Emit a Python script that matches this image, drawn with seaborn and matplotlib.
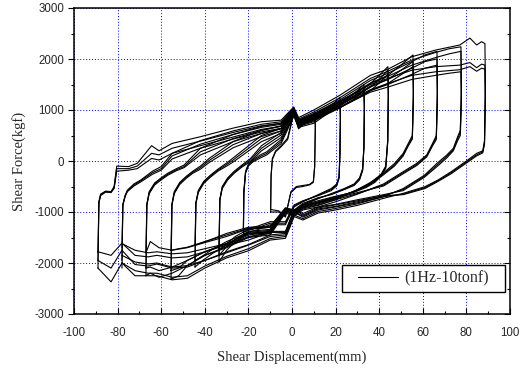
import matplotlib
matplotlib.use("Agg")
import matplotlib.pyplot as plt
from matplotlib.ticker import MultipleLocator, NullFormatter
from matplotlib.patches import Rectangle
import seaborn as sns
import pandas as pd

# ---------------- data ----------------
# amplitude 89 mm loops
x89 = [-89, -88.6, -87.8, -85.5, -83, -81.6, -80.4, -75, -71, -64.4, -61, -55, -42, -27, -14, -5, 0.8, 3, 10, 22, 36, 44, 55, 66, 77, 81.6, 84.7, 87, 88.5,
       88.7, 88.3, 87.5, 84.7, 80, 73, 67, 61, 51, 42, 30, 20, 12, 5, 1, -3, -10, -20, -30, -40, -48, -55, -62, -66, -72, -78, -83, -89]
f89_1 = [-2100, -800, -650, -590, -600, -500, -100, -110, -46, 300, 200, 345, 476, 645, 770, 800, 1060, 850, 1000, 1290, 1680, 1800, 2045, 2176, 2275, 2410, 2275, 2340, 2300,
         1500, 400, 200, 150, 0, -210, -372, -503, -634, -732, -870, -960, -1020, -1157, -1090, -1516, -1550, -1760, -1900, -2100, -2300, -2330, -2250, -2250, -2250, -2000, -2370, -2100]
f89_2 = [-1950, -820, -660, -600, -610, -520, -150, -150, -100, 150, 120, 250, 390, 560, 690, 740, 1020, 800, 920, 1180, 1500, 1620, 1780, 1850, 1880, 1930, 1830, 1900, 1880,
         1300, 350, 180, 120, -20, -230, -390, -520, -650, -700, -820, -900, -960, -1100, -1000, -1450, -1480, -1650, -1800, -1950, -2080, -2100, -2020, -2060, -2030, -1750, -2100, -1950]
f89_3 = [-1800, -830, -680, -610, -620, -540, -200, -180, -150, 50, 20, 150, 300, 470, 620, 680, 990, 760, 860, 1100, 1400, 1520, 1680, 1750, 1790, 1850, 1760, 1820, 1800,
         1200, 330, 160, 100, -40, -250, -400, -540, -660, -680, -780, -860, -920, -1060, -950, -1400, -1400, -1550, -1650, -1780, -1880, -1900, -1850, -1880, -1850, -1610, -1850, -1780]

# amplitude 78 mm loops
x78 = [-78, -77.6, -76.5, -75.5, -72.5, -69.4, -64, -60, -55, -42, -27, -14, -5, 0.8, 3, 10, 22, 36, 44, 55, 66, 72, 77.5,
       77.7, 77.2, 76, 74, 71, 66.5, 60.7, 51, 42, 30, 20, 12, 5, 1, -3, -10, -20, -30, -40, -48, -55, -62, -66, -72, -78]
f78_1 = [-2100, -850, -670, -570, -450, -373, -200, -110, 150, 400, 590, 720, 770, 1040, 820, 960, 1240, 1620, 1760, 1980, 2130, 2200, 2240,
         1400, 600, 477, 250, 118, -46, -280, -540, -700, -840, -930, -990, -1130, -1060, -1480, -1520, -1720, -1870, -2060, -2250, -2280, -2200, -2200, -2150, -2000]
f78_2 = [-1950, -860, -680, -590, -470, -390, -230, -150, 100, 330, 520, 660, 720, 1010, 790, 900, 1160, 1520, 1660, 1880, 2030, 2100, 2150,
         1300, 560, 440, 220, 90, -80, -300, -560, -680, -800, -890, -940, -1080, -1000, -1420, -1450, -1640, -1780, -1950, -2050, -2080, -2000, -2020, -1980, -1850]
f78_3 = [-1700, -870, -690, -600, -490, -410, -260, -180, 40, 250, 430, 570, 640, 970, 740, 820, 1050, 1350, 1450, 1600, 1680, 1720, 1750,
         1100, 500, 400, 200, 60, -110, -320, -580, -660, -760, -850, -900, -1030, -950, -1380, -1380, -1500, -1620, -1720, -1800, -1820, -1780, -1800, -1750, -1620]

# amplitude 66 mm loops
x66 = [-67, -66.6, -65.5, -63, -60, -57, -53, -49.5, -42, -27, -14, -5, 0.8, 3, 10, 22, 36, 44, 55, 61, 66.5,
       66.7, 66.2, 64.5, 61.8, 57.2, 51, 42, 30, 20, 12, 5, 1, -3, -10, -20, -30, -40, -48, -55, -61, -65, -67]
f66_1 = [-2250, -850, -600, -430, -330, -240, -150, -80, 250, 520, 680, 740, 1020, 800, 930, 1200, 1580, 1720, 1950, 2080, 2150,
         1400, 500, 346, 118, -46, -209, -450, -650, -800, -900, -960, -1080, -1020, -1450, -1500, -1700, -1850, -2050, -2200, -2280, -2200, -2250]
f66_2 = [-2100, -860, -620, -450, -350, -260, -170, -110, 180, 440, 600, 680, 990, 770, 880, 1120, 1470, 1600, 1820, 1950, 2000,
         1300, 460, 320, 100, -70, -230, -470, -640, -760, -860, -920, -1040, -980, -1400, -1420, -1620, -1780, -1950, -2080, -2150, -2080, -2100]
f66_3 = [-1800, -870, -640, -470, -370, -280, -190, -130, 120, 380, 540, 630, 960, 740, 840, 1060, 1380, 1500, 1700, 1820, 1880,
         1200, 420, 300, 80, -90, -250, -490, -620, -730, -820, -880, -1000, -940, -1300, -1330, -1480, -1600, -1700, -1750, -1700, -1580, -1800]

# amplitude 55 mm loops
x55 = [-55.5, -55.1, -54, -51.5, -48.5, -45.5, -42, -38, -27, -14, -5, 0.8, 3, 10, 22, 36, 44, 50, 55.5,
       55.7, 55.2, 53.4, 51, 47, 42, 36, 30, 20, 12, 5, 1, -3, -10, -20, -30, -40, -48, -52, -55.5]
f55_1 = [-2320, -850, -600, -420, -300, -200, -100, 50, 380, 600, 690, 1000, 780, 900, 1160, 1530, 1680, 1880, 2080,
         1400, 500, 350, 150, -50, -230, -420, -560, -760, -870, -940, -1060, -1000, -1420, -1480, -1680, -1850, -2050, -2250, -2320]
f55_2 = [-2150, -860, -620, -440, -320, -220, -130, 10, 320, 540, 640, 980, 760, 870, 1110, 1450, 1600, 1780, 1950,
         1300, 460, 320, 120, -80, -250, -440, -570, -740, -840, -910, -1030, -970, -1380, -1430, -1620, -1780, -1950, -2100, -2150]
f55_3 = [-1750, -870, -640, -460, -340, -240, -160, -30, 260, 480, 590, 950, 730, 830, 1050, 1380, 1520, 1690, 1850,
         1200, 430, 300, 100, -100, -270, -450, -580, -720, -810, -880, -1000, -940, -1300, -1320, -1450, -1580, -1690, -1720, -1750]

# amplitude 44 mm loops
x44 = [-44.5, -44.1, -43, -40.5, -37.5, -34, -30, -27, -14, -5, 0.8, 3, 10, 22, 30, 36, 40, 44,
       44.2, 43.9, 43, 41, 38, 34, 28, 20, 12, 5, 1, -3, -10, -20, -30, -36, -41, -44.5]
f44_1 = [-2080, -820, -580, -400, -280, -160, -40, 60, 500, 640, 980, 760, 880, 1150, 1350, 1520, 1680, 1850,
         1400, 400, -100, -250, -380, -480, -600, -720, -820, -900, -1030, -980, -1400, -1450, -1650, -1800, -1950, -2080]
f44_2 = [-1950, -830, -600, -420, -300, -180, -70, 20, 440, 590, 960, 740, 850, 1100, 1290, 1450, 1600, 1780,
         1300, 380, -120, -270, -400, -500, -610, -700, -800, -880, -1000, -950, -1360, -1400, -1580, -1720, -1860, -1950]
f44_3 = [-1650, -840, -620, -440, -320, -200, -100, -20, 380, 540, 930, 710, 820, 1050, 1230, 1380, 1530, 1700,
         1200, 360, -140, -290, -420, -520, -620, -690, -780, -860, -970, -920, -1280, -1300, -1420, -1520, -1600, -1650]

# amplitude 33 mm loops
x33 = [-33.5, -33.1, -32, -29.5, -26.5, -23, -19, -14, -5, 0.8, 3, 10, 22, 28, 33,
       33.2, 33, 32.4, 31, 28.5, 24, 18, 12, 5, 1, -3, -10, -20, -26, -30, -33.5]
f33_1 = [-1980, -750, -500, -330, -200, -80, 50, 300, 560, 960, 740, 850, 1120, 1300, 1500,
         1100, 300, -150, -330, -450, -540, -640, -740, -870, -1000, -960, -1380, -1420, -1580, -1750, -1980]
f33_2 = [-1850, -760, -520, -350, -220, -100, 20, 250, 510, 940, 720, 820, 1080, 1250, 1450,
         1050, 280, -170, -350, -460, -550, -650, -730, -850, -980, -940, -1340, -1380, -1530, -1680, -1850]
f33_3 = [-1750, -770, -540, -370, -240, -120, -10, 200, 460, 920, 700, 790, 1040, 1200, 1380,
         1000, 260, -190, -370, -480, -560, -660, -720, -830, -960, -920, -1300, -1340, -1480, -1620, -1750]

# amplitude 22 mm loops
x22 = [-22.3, -22.1, -21.3, -20, -18, -14.5, -11.6, -5, 0.8, 3, 10, 16, 22,
       22.2, 22, 21.6, 20.5, 18, 12, 5, 1, -3, -10, -16, -20, -22.3]
f22_1 = [-1450, -600, -200, -60, 20, 120, 180, 420, 920, 700, 800, 1000, 1250,
         900, 200, -300, -450, -540, -660, -800, -900, -1250, -1250, -1350, -1400, -1450]
f22_2 = [-1400, -620, -220, -80, 0, 90, 150, 380, 900, 680, 770, 960, 1180,
         850, 180, -320, -470, -560, -670, -790, -880, -1220, -1220, -1310, -1360, -1400]
f22_3 = [-1350, -640, -240, -100, -20, 60, 120, 340, 880, 660, 740, 920, 1130,
         800, 160, -340, -490, -580, -680, -780, -860, -1190, -1190, -1280, -1320, -1350]

# amplitude 10 mm loops
x10 = [-9.8, -9.6, -9, -7.5, -5, -2, 0.8, 3, 6, 10.5,
       10.7, 10.4, 9.8, 8, 5, 2, -0.5, -3, -6, -9.8]
f10_1 = [-1000, -300, 50, 200, 300, 450, 950, 650, 780, 950,
         700, -100, -400, -460, -480, -500, -600, -1100, -1000, -1000]
f10_2 = [-950, -280, 30, 180, 280, 420, 930, 630, 750, 900,
         650, -120, -420, -470, -500, -520, -620, -1080, -980, -950]

legend_label = "(1Hz-10tonf)"
x_label = "Shear Displacement(mm)"
y_label = "Shear Force(kgf)"

# ---------------- plotting ----------------
sns.set_style("ticks")
plt.rcParams["font.family"] = ["Liberation Sans", "DejaVu Sans"]
plt.rcParams["axes.unicode_minus"] = False

fig = plt.figure(figsize=(5.25, 3.69), dpi=100)
ax = fig.add_axes([74 / 525, 55 / 369, 436 / 525, 306 / 369])

loops = [
    (x89, [f89_1, f89_2, f89_3]),
    (x78, [f78_1, f78_2, f78_3]),
    (x66, [f66_1, f66_2, f66_3]),
    (x55, [f55_1, f55_2, f55_3]),
    (x44, [f44_1, f44_2, f44_3]),
    (x33, [f33_1, f33_2, f33_3]),
    (x22, [f22_1, f22_2, f22_3]),
    (x10, [f10_1, f10_2]),
]

first = True
for xs, cycles in loops:
    for fs in cycles:
        df = pd.DataFrame({"disp": xs, "force": fs})
        sns.lineplot(data=df, x="disp", y="force", sort=False, estimator=None,
                     color="black", linewidth=0.8, ax=ax,
                     label=legend_label if first else None, legend=False, zorder=3)
        first = False

ax.set_xlim(-100, 100)
ax.set_ylim(-3000, 3000)
ax.xaxis.set_major_locator(MultipleLocator(20))
ax.xaxis.set_minor_locator(MultipleLocator(10))
ax.yaxis.set_major_locator(MultipleLocator(1000))
ax.yaxis.set_minor_locator(MultipleLocator(500))

ax.grid(True, which="major", color="#0000ff", linestyle=(0, (1, 2)), linewidth=0.7, zorder=1)

for s in ax.spines.values():
    s.set_linewidth(1.1)
    s.set_color("black")

ax.tick_params(axis="both", which="both", labelsize=8.3, color="black", width=0.8)
ax.tick_params(axis="y", which="major", direction="out", length=4, pad=3)
ax.tick_params(axis="y", which="minor", direction="out", length=2.5)
ax.tick_params(axis="x", which="major", direction="in", length=4, pad=9)
ax.tick_params(axis="x", which="minor", direction="in", length=2.5)

# right-hand ticks point inward
axr = ax.twinx()
axr.set_ylim(ax.get_ylim())
axr.yaxis.set_major_locator(MultipleLocator(1000))
axr.yaxis.set_minor_locator(MultipleLocator(500))
axr.yaxis.set_major_formatter(NullFormatter())
axr.tick_params(axis="y", which="major", direction="in", length=4, width=0.8, color="black")
axr.tick_params(axis="y", which="minor", direction="in", length=2.5, width=0.8, color="black")
axr.grid(False)
for s in axr.spines.values():
    s.set_visible(False)

ax.set_xlabel(x_label, family=["Liberation Serif"], fontsize=10.5, labelpad=9)
ax.set_ylabel(y_label, family=["Liberation Serif"], fontsize=10.5, labelpad=6)

# legend box (frame drawn as a rectangle to reproduce wide side padding)
frame = Rectangle((0.6147, 0.0719), 0.374, 0.0882, transform=ax.transAxes,
                  facecolor="white", edgecolor="black", linewidth=1.0, zorder=5)
ax.add_patch(frame)
handles, labels = ax.get_legend_handles_labels()
leg = ax.legend(handles[:1], [legend_label], loc="center",
                bbox_to_anchor=(0.8016, 0.116), frameon=False,
                prop={"family": "Liberation Serif", "size": 11.5},
                handlelength=2.5, handletextpad=0.35, borderpad=0.0, borderaxespad=0.0)
leg.set_zorder(6)

fig.savefig("out.png", dpi=100)
